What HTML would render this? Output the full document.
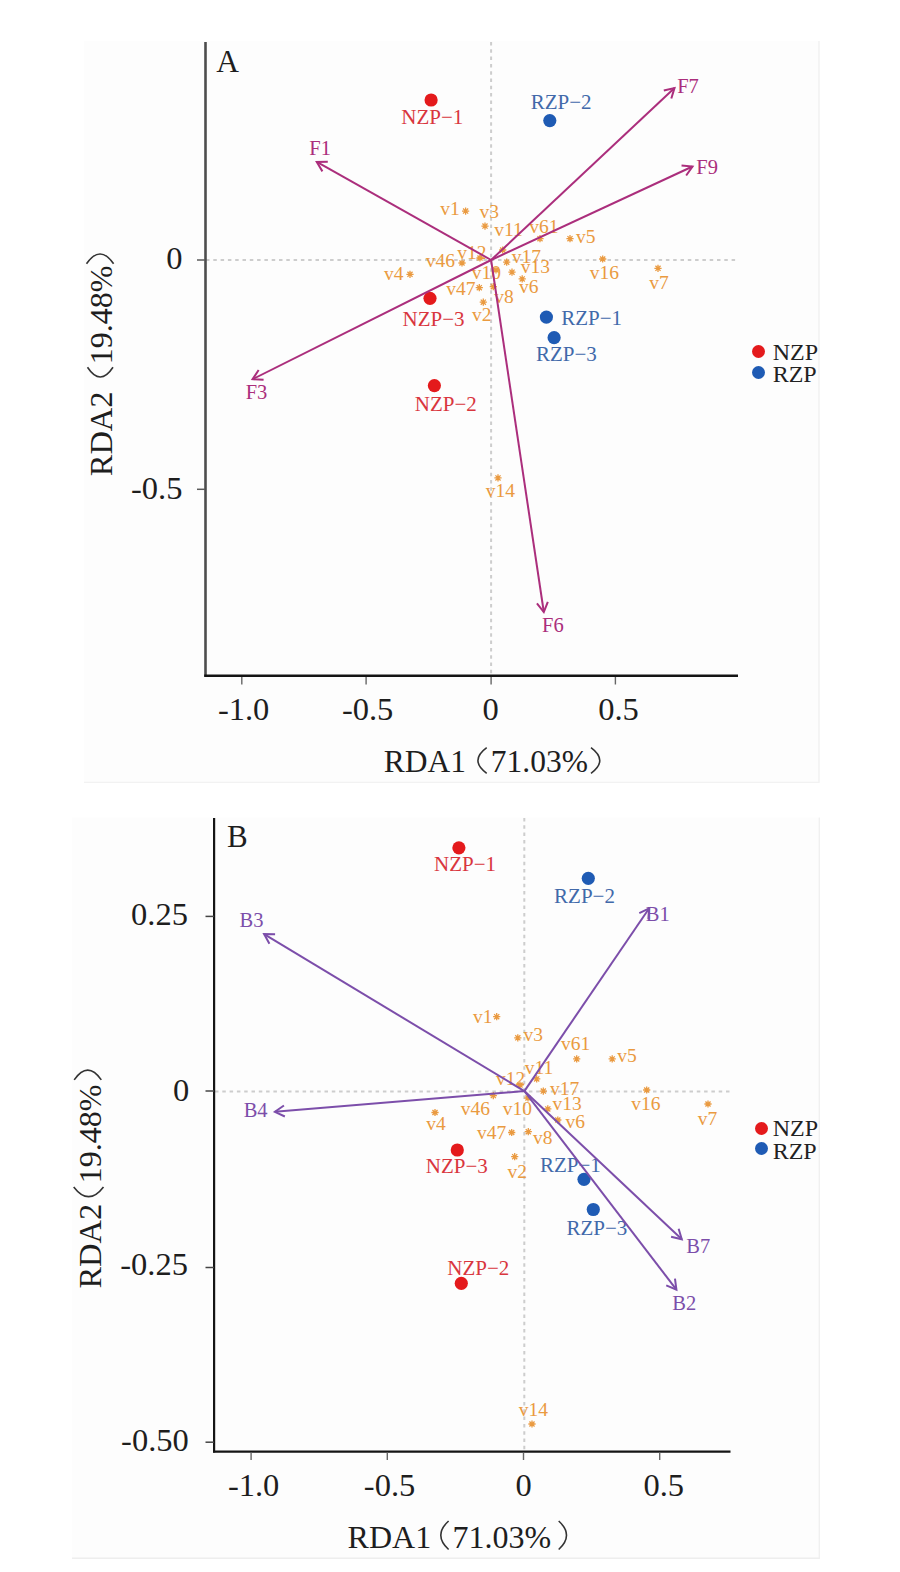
<!DOCTYPE html>
<html><head><meta charset="utf-8"><style>
html,body{margin:0;padding:0;background:#ffffff;}
svg{display:block;}
text{font-family:"Liberation Serif", serif;}
</style></head><body>
<svg width="900" height="1572" viewBox="0 0 900 1572">
<rect width="900" height="1572" fill="#ffffff"/>
<rect x="84" y="41" width="735" height="741" fill="#fdfdfd"/>
<rect x="72" y="817.5" width="747.5" height="741" fill="#fdfdfd"/>
<line x1="819" y1="41" x2="819" y2="782.5" stroke="#efefef" stroke-width="1.2"/>
<line x1="84" y1="782.3" x2="819.5" y2="782.3" stroke="#f2f2f2" stroke-width="1.2"/>
<line x1="819.3" y1="817.5" x2="819.3" y2="1558.7" stroke="#efefef" stroke-width="1.2"/>
<line x1="72" y1="1558.3" x2="819.8" y2="1558.3" stroke="#eeeeee" stroke-width="1.4"/>
<line x1="491.1" y1="42" x2="491.1" y2="675" stroke="#cdcdcd" stroke-width="2" stroke-dasharray="3.5,3.8"/>
<line x1="206" y1="260" x2="738" y2="260" stroke="#cdcdcd" stroke-width="2" stroke-dasharray="3.5,3.8"/>
<line x1="205.5" y1="42" x2="205.5" y2="676.5" stroke="#4d4d4d" stroke-width="2.6"/>
<line x1="204.2" y1="675.8" x2="738" y2="675.8" stroke="#141414" stroke-width="2.4"/>
<line x1="197" y1="260" x2="205" y2="260" stroke="#5a5a5a" stroke-width="1.5"/>
<line x1="197" y1="489.3" x2="205" y2="489.3" stroke="#5a5a5a" stroke-width="1.5"/>
<line x1="241.8" y1="677" x2="241.8" y2="684.5" stroke="#666" stroke-width="1.4"/>
<line x1="366.1" y1="677" x2="366.1" y2="684.5" stroke="#666" stroke-width="1.4"/>
<line x1="491.1" y1="677" x2="491.1" y2="684.5" stroke="#666" stroke-width="1.4"/>
<line x1="615.4" y1="677" x2="615.4" y2="684.5" stroke="#666" stroke-width="1.4"/>
<text x="166.22" y="269.44" font-size="32.5" fill="#1e1e1e">0</text>
<text x="131.02" y="499.36" font-size="32.5" fill="#1e1e1e">-0.5</text>
<text x="217.88" y="719.51" font-size="32.5" fill="#1e1e1e">-1.0</text>
<text x="341.93" y="719.51" font-size="32.5" fill="#1e1e1e">-0.5</text>
<text x="482.62" y="719.59" font-size="32.5" fill="#1e1e1e">0</text>
<text x="598.18" y="719.51" font-size="32.5" fill="#1e1e1e">0.5</text>
<text x="383.63" y="772.20" font-size="31.5" fill="#1e1e1e">RDA1</text>
<text x="490.85" y="772.20" font-size="31.5" fill="#1e1e1e">71.03%</text>
<path d="M486.70,747.60 Q469.15,760.45 486.70,773.30" fill="none" stroke="#333" stroke-width="1.6"/>
<path d="M591.00,747.60 Q608.55,760.45 591.00,773.30" fill="none" stroke="#333" stroke-width="1.6"/>
<text transform="translate(112.00,476.29) rotate(-90)" font-size="32.5" fill="#1e1e1e">RDA2</text>
<text transform="translate(112.00,364.20) rotate(-90)" font-size="32.0" fill="#1e1e1e">19.48%</text>
<path d="M87.50,367.30 Q100.25,386.80 113.00,367.30" fill="none" stroke="#333" stroke-width="1.6"/>
<path d="M86.50,263.80 Q100.05,244.30 113.60,263.80" fill="none" stroke="#333" stroke-width="1.6"/>
<text x="216.28" y="72.34" font-size="31.5" fill="#1e1e1e">A</text>
<text x="440.29" y="214.69" font-size="19.5" fill="#ea9a40">v1</text>
<text x="479.49" y="217.71" font-size="19.5" fill="#ea9a40">v3</text>
<text x="494.33" y="236.24" font-size="19.5" fill="#ea9a40">v11</text>
<text x="529.31" y="233.36" font-size="19.5" fill="#ea9a40">v61</text>
<text x="575.99" y="243.29" font-size="19.5" fill="#ea9a40">v5</text>
<text x="511.74" y="262.84" font-size="19.5" fill="#ea9a40">v17</text>
<text x="520.76" y="272.51" font-size="19.5" fill="#ea9a40">v13</text>
<text x="457.21" y="258.86" font-size="19.5" fill="#ea9a40">v12</text>
<text x="425.67" y="267.36" font-size="19.5" fill="#ea9a40">v46</text>
<text x="384.05" y="280.31" font-size="19.5" fill="#ea9a40">v4</text>
<text x="446.29" y="294.96" font-size="19.5" fill="#ea9a40">v47</text>
<text x="471.84" y="279.39" font-size="19.5" fill="#ea9a40">v10</text>
<text x="518.89" y="292.76" font-size="19.5" fill="#ea9a40">v6</text>
<text x="494.27" y="302.79" font-size="19.5" fill="#ea9a40">v8</text>
<text x="471.89" y="320.86" font-size="19.5" fill="#ea9a40">v2</text>
<text x="589.67" y="279.36" font-size="19.5" fill="#ea9a40">v16</text>
<text x="649.17" y="289.29" font-size="19.5" fill="#ea9a40">v7</text>
<text x="485.87" y="497.04" font-size="19.5" fill="#ea9a40">v14</text>
<path d="M462.00,211.10L469.20,211.10M463.05,208.55L468.15,213.65M465.60,207.50L465.60,214.70M468.15,208.55L463.05,213.65" stroke="#ea9a40" stroke-width="1.3"/>
<path d="M481.40,226.10L488.60,226.10M482.45,223.55L487.55,228.65M485.00,222.50L485.00,229.70M487.55,223.55L482.45,228.65" stroke="#ea9a40" stroke-width="1.3"/>
<path d="M536.40,238.70L543.60,238.70M537.45,236.15L542.55,241.25M540.00,235.10L540.00,242.30M542.55,236.15L537.45,241.25" stroke="#ea9a40" stroke-width="1.3"/>
<path d="M566.40,238.70L573.60,238.70M567.45,236.15L572.55,241.25M570.00,235.10L570.00,242.30M572.55,236.15L567.45,241.25" stroke="#ea9a40" stroke-width="1.3"/>
<path d="M499.10,250.00L506.30,250.00M500.15,247.45L505.25,252.55M502.70,246.40L502.70,253.60M505.25,247.45L500.15,252.55" stroke="#ea9a40" stroke-width="1.3"/>
<path d="M406.40,274.30L413.60,274.30M407.45,271.75L412.55,276.85M410.00,270.70L410.00,277.90M412.55,271.75L407.45,276.85" stroke="#ea9a40" stroke-width="1.3"/>
<path d="M458.40,263.00L465.60,263.00M459.45,260.45L464.55,265.55M462.00,259.40L462.00,266.60M464.55,260.45L459.45,265.55" stroke="#ea9a40" stroke-width="1.3"/>
<path d="M475.70,287.70L482.90,287.70M476.75,285.15L481.85,290.25M479.30,284.10L479.30,291.30M481.85,285.15L476.75,290.25" stroke="#ea9a40" stroke-width="1.3"/>
<path d="M518.60,278.90L525.80,278.90M519.65,276.35L524.75,281.45M522.20,275.30L522.20,282.50M524.75,276.35L519.65,281.45" stroke="#ea9a40" stroke-width="1.3"/>
<path d="M489.70,286.70L496.90,286.70M490.75,284.15L495.85,289.25M493.30,283.10L493.30,290.30M495.85,284.15L490.75,289.25" stroke="#ea9a40" stroke-width="1.3"/>
<path d="M479.70,302.20L486.90,302.20M480.75,299.65L485.85,304.75M483.30,298.60L483.30,305.80M485.85,299.65L480.75,304.75" stroke="#ea9a40" stroke-width="1.3"/>
<path d="M503.10,262.20L510.30,262.20M504.15,259.65L509.25,264.75M506.70,258.60L506.70,265.80M509.25,259.65L504.15,264.75" stroke="#ea9a40" stroke-width="1.3"/>
<path d="M508.40,272.20L515.60,272.20M509.45,269.65L514.55,274.75M512.00,268.60L512.00,275.80M514.55,269.65L509.45,274.75" stroke="#ea9a40" stroke-width="1.3"/>
<path d="M599.10,259.00L606.30,259.00M600.15,256.45L605.25,261.55M602.70,255.40L602.70,262.60M605.25,256.45L600.15,261.55" stroke="#ea9a40" stroke-width="1.3"/>
<path d="M654.40,268.30L661.60,268.30M655.45,265.75L660.55,270.85M658.00,264.70L658.00,271.90M660.55,265.75L655.45,270.85" stroke="#ea9a40" stroke-width="1.3"/>
<path d="M494.40,477.90L501.60,477.90M495.45,475.35L500.55,480.45M498.00,474.30L498.00,481.50M500.55,475.35L495.45,480.45" stroke="#ea9a40" stroke-width="1.3"/>
<path d="M476.40,258.00L483.60,258.00M477.45,255.45L482.55,260.55M480.00,254.40L480.00,261.60M482.55,255.45L477.45,260.55" stroke="#ea9a40" stroke-width="1.3"/>
<path d="M492.40,270.00L499.60,270.00M493.45,267.45L498.55,272.55M496.00,266.40L496.00,273.60M498.55,267.45L493.45,272.55" stroke="#ea9a40" stroke-width="1.3"/>
<circle cx="431.1" cy="100" r="6.6" fill="#e41a1c"/>
<circle cx="430" cy="298.3" r="6.6" fill="#e41a1c"/>
<circle cx="434.4" cy="385.6" r="6.6" fill="#e41a1c"/>
<circle cx="549.8" cy="120.6" r="6.6" fill="#1f5bb4"/>
<circle cx="546.4" cy="317.1" r="6.6" fill="#1f5bb4"/>
<circle cx="554.1" cy="337.7" r="6.6" fill="#1f5bb4"/>
<text x="401.24" y="123.93" font-size="21" fill="#d9363e">NZP−1</text>
<text x="402.48" y="325.75" font-size="21" fill="#d9363e">NZP−3</text>
<text x="414.84" y="411.16" font-size="21" fill="#d9363e">NZP−2</text>
<text x="530.77" y="109.31" font-size="21" fill="#4169aa">RZP−2</text>
<text x="561.27" y="325.28" font-size="21" fill="#4169aa">RZP−1</text>
<text x="535.96" y="360.90" font-size="21" fill="#4169aa">RZP−3</text>
<line x1="491.1" y1="260.0" x2="674.5" y2="88" stroke="#ab2e7c" stroke-width="2.0"/>
<polyline points="663.79,90.50 674.5,88 671.31,98.53" fill="none" stroke="#ab2e7c" stroke-width="2.0" stroke-linejoin="miter"/>
<line x1="491.1" y1="260.0" x2="692.5" y2="166.5" stroke="#ab2e7c" stroke-width="2.0"/>
<polyline points="681.54,165.52 692.5,166.5 686.18,175.50" fill="none" stroke="#ab2e7c" stroke-width="2.0" stroke-linejoin="miter"/>
<line x1="491.1" y1="260.0" x2="316.8" y2="161.9" stroke="#ab2e7c" stroke-width="2.0"/>
<polyline points="322.40,171.37 316.8,161.9 327.80,161.78" fill="none" stroke="#ab2e7c" stroke-width="2.0" stroke-linejoin="miter"/>
<line x1="491.1" y1="260.0" x2="252.6" y2="379.2" stroke="#ab2e7c" stroke-width="2.0"/>
<polyline points="263.58,379.86 252.6,379.2 258.66,370.02" fill="none" stroke="#ab2e7c" stroke-width="2.0" stroke-linejoin="miter"/>
<line x1="491.1" y1="260.0" x2="543.8" y2="612" stroke="#ab2e7c" stroke-width="2.0"/>
<polyline points="547.83,601.76 543.8,612 536.95,603.39" fill="none" stroke="#ab2e7c" stroke-width="2.0" stroke-linejoin="miter"/>
<text x="677.19" y="92.71" font-size="20.5" fill="#ab2e7c">F7</text>
<text x="696.31" y="173.94" font-size="20.5" fill="#ab2e7c">F9</text>
<text x="309.27" y="155.21" font-size="20.5" fill="#ab2e7c">F1</text>
<text x="245.71" y="398.89" font-size="20.5" fill="#ab2e7c">F3</text>
<text x="542.11" y="631.99" font-size="20.5" fill="#ab2e7c">F6</text>
<circle cx="758.5" cy="351.5" r="6.5" fill="#e41a1c"/>
<circle cx="758.5" cy="372.5" r="6.5" fill="#1f5bb4"/>
<text x="772.72" y="359.61" font-size="24" fill="#222">NZP</text>
<text x="772.63" y="381.61" font-size="24" fill="#222">RZP</text>
<line x1="524.3" y1="818" x2="524.3" y2="1451" stroke="#cdcdcd" stroke-width="2" stroke-dasharray="3.5,3.8"/>
<line x1="215" y1="1091.5" x2="731" y2="1091.5" stroke="#cdcdcd" stroke-width="2" stroke-dasharray="3.5,3.8"/>
<line x1="214.1" y1="818" x2="214.1" y2="1452.5" stroke="#151515" stroke-width="2.2"/>
<line x1="213" y1="1451.6" x2="730.5" y2="1451.6" stroke="#151515" stroke-width="2.2"/>
<line x1="205.5" y1="916.4" x2="214" y2="916.4" stroke="#444" stroke-width="1.5"/>
<line x1="205.5" y1="1091" x2="214" y2="1091" stroke="#444" stroke-width="1.5"/>
<line x1="205.5" y1="1267.5" x2="214" y2="1267.5" stroke="#444" stroke-width="1.5"/>
<line x1="205.5" y1="1442.2" x2="214" y2="1442.2" stroke="#444" stroke-width="1.5"/>
<line x1="251.1" y1="1452.5" x2="251.1" y2="1460" stroke="#666" stroke-width="1.4"/>
<line x1="387.3" y1="1452.5" x2="387.3" y2="1460" stroke="#666" stroke-width="1.4"/>
<line x1="523.5" y1="1452.5" x2="523.5" y2="1460" stroke="#666" stroke-width="1.4"/>
<line x1="659.7" y1="1452.5" x2="659.7" y2="1460" stroke="#666" stroke-width="1.4"/>
<text x="131.10" y="924.81" font-size="32.5" fill="#1e1e1e">0.25</text>
<text x="172.88" y="1100.64" font-size="32.5" fill="#1e1e1e">0</text>
<text x="120.20" y="1275.31" font-size="32.5" fill="#1e1e1e">-0.25</text>
<text x="121.11" y="1451.11" font-size="32.5" fill="#1e1e1e">-0.50</text>
<text x="227.93" y="1496.26" font-size="32.5" fill="#1e1e1e">-1.0</text>
<text x="363.82" y="1496.26" font-size="32.5" fill="#1e1e1e">-0.5</text>
<text x="515.58" y="1496.34" font-size="32.5" fill="#1e1e1e">0</text>
<text x="643.43" y="1496.26" font-size="32.5" fill="#1e1e1e">0.5</text>
<text x="347.62" y="1548.20" font-size="32" fill="#1e1e1e">RDA1</text>
<text x="452.52" y="1548.20" font-size="32" fill="#1e1e1e">71.03%</text>
<path d="M448.60,1521.00 Q433.00,1535.25 448.60,1549.50" fill="none" stroke="#333" stroke-width="1.6"/>
<path d="M558.70,1521.00 Q574.30,1535.25 558.70,1549.50" fill="none" stroke="#333" stroke-width="1.6"/>
<text transform="translate(100.60,1288.59) rotate(-90)" font-size="32.5" fill="#1e1e1e">RDA2</text>
<text transform="translate(100.60,1183.20) rotate(-90)" font-size="32" fill="#1e1e1e">19.48%</text>
<path d="M73.70,1186.90 Q88.60,1206.40 103.50,1186.90" fill="none" stroke="#333" stroke-width="1.6"/>
<path d="M74.20,1079.90 Q87.75,1060.40 101.30,1079.90" fill="none" stroke="#333" stroke-width="1.6"/>
<text x="226.95" y="846.81" font-size="31" fill="#1e1e1e">B</text>
<text x="473.04" y="1022.74" font-size="19.5" fill="#ea9a40">v1</text>
<text x="523.39" y="1041.36" font-size="19.5" fill="#ea9a40">v3</text>
<text x="560.96" y="1049.61" font-size="19.5" fill="#ea9a40">v61</text>
<text x="617.34" y="1062.39" font-size="19.5" fill="#ea9a40">v5</text>
<text x="524.63" y="1073.54" font-size="19.5" fill="#ea9a40">v11</text>
<text x="495.91" y="1085.36" font-size="19.5" fill="#ea9a40">v12</text>
<text x="550.09" y="1095.34" font-size="19.5" fill="#ea9a40">v17</text>
<text x="460.67" y="1114.71" font-size="19.5" fill="#ea9a40">v46</text>
<text x="502.84" y="1115.14" font-size="19.5" fill="#ea9a40">v10</text>
<text x="552.41" y="1110.26" font-size="19.5" fill="#ea9a40">v13</text>
<text x="565.54" y="1128.01" font-size="19.5" fill="#ea9a40">v6</text>
<text x="631.32" y="1110.11" font-size="19.5" fill="#ea9a40">v16</text>
<text x="476.89" y="1138.81" font-size="19.5" fill="#ea9a40">v47</text>
<text x="533.12" y="1143.89" font-size="19.5" fill="#ea9a40">v8</text>
<text x="426.25" y="1129.61" font-size="19.5" fill="#ea9a40">v4</text>
<text x="507.49" y="1178.36" font-size="19.5" fill="#ea9a40">v2</text>
<text x="697.87" y="1124.64" font-size="19.5" fill="#ea9a40">v7</text>
<text x="518.67" y="1415.99" font-size="19.5" fill="#ea9a40">v14</text>
<path d="M493.10,1016.70L500.30,1016.70M494.15,1014.15L499.25,1019.25M496.70,1013.10L496.70,1020.30M499.25,1014.15L494.15,1019.25" stroke="#ea9a40" stroke-width="1.3"/>
<path d="M514.20,1037.80L521.40,1037.80M515.25,1035.25L520.35,1040.35M517.80,1034.20L517.80,1041.40M520.35,1035.25L515.25,1040.35" stroke="#ea9a40" stroke-width="1.3"/>
<path d="M573.10,1058.90L580.30,1058.90M574.15,1056.35L579.25,1061.45M576.70,1055.30L576.70,1062.50M579.25,1056.35L574.15,1061.45" stroke="#ea9a40" stroke-width="1.3"/>
<path d="M608.60,1058.90L615.80,1058.90M609.65,1056.35L614.75,1061.45M612.20,1055.30L612.20,1062.50M614.75,1056.35L609.65,1061.45" stroke="#ea9a40" stroke-width="1.3"/>
<path d="M533.10,1078.90L540.30,1078.90M534.15,1076.35L539.25,1081.45M536.70,1075.30L536.70,1082.50M539.25,1076.35L534.15,1081.45" stroke="#ea9a40" stroke-width="1.3"/>
<path d="M539.70,1091.10L546.90,1091.10M540.75,1088.55L545.85,1093.65M543.30,1087.50L543.30,1094.70M545.85,1088.55L540.75,1093.65" stroke="#ea9a40" stroke-width="1.3"/>
<path d="M489.70,1095.60L496.90,1095.60M490.75,1093.05L495.85,1098.15M493.30,1092.00L493.30,1099.20M495.85,1093.05L490.75,1098.15" stroke="#ea9a40" stroke-width="1.3"/>
<path d="M544.20,1108.90L551.40,1108.90M545.25,1106.35L550.35,1111.45M547.80,1105.30L547.80,1112.50M550.35,1106.35L545.25,1111.45" stroke="#ea9a40" stroke-width="1.3"/>
<path d="M554.20,1120.00L561.40,1120.00M555.25,1117.45L560.35,1122.55M557.80,1116.40L557.80,1123.60M560.35,1117.45L555.25,1122.55" stroke="#ea9a40" stroke-width="1.3"/>
<path d="M643.10,1090.00L650.30,1090.00M644.15,1087.45L649.25,1092.55M646.70,1086.40L646.70,1093.60M649.25,1087.45L644.15,1092.55" stroke="#ea9a40" stroke-width="1.3"/>
<path d="M508.10,1132.50L515.30,1132.50M509.15,1129.95L514.25,1135.05M511.70,1128.90L511.70,1136.10M514.25,1129.95L509.15,1135.05" stroke="#ea9a40" stroke-width="1.3"/>
<path d="M524.70,1131.70L531.90,1131.70M525.75,1129.15L530.85,1134.25M528.30,1128.10L528.30,1135.30M530.85,1129.15L525.75,1134.25" stroke="#ea9a40" stroke-width="1.3"/>
<path d="M431.40,1112.50L438.60,1112.50M432.45,1109.95L437.55,1115.05M435.00,1108.90L435.00,1116.10M437.55,1109.95L432.45,1115.05" stroke="#ea9a40" stroke-width="1.3"/>
<path d="M511.10,1156.70L518.30,1156.70M512.15,1154.15L517.25,1159.25M514.70,1153.10L514.70,1160.30M517.25,1154.15L512.15,1159.25" stroke="#ea9a40" stroke-width="1.3"/>
<path d="M704.40,1104.00L711.60,1104.00M705.45,1101.45L710.55,1106.55M708.00,1100.40L708.00,1107.60M710.55,1101.45L705.45,1106.55" stroke="#ea9a40" stroke-width="1.3"/>
<path d="M528.40,1424.00L535.60,1424.00M529.45,1421.45L534.55,1426.55M532.00,1420.40L532.00,1427.60M534.55,1421.45L529.45,1426.55" stroke="#ea9a40" stroke-width="1.3"/>
<path d="M516.40,1085.00L523.60,1085.00M517.45,1082.45L522.55,1087.55M520.00,1081.40L520.00,1088.60M522.55,1082.45L517.45,1087.55" stroke="#ea9a40" stroke-width="1.3"/>
<path d="M524.40,1098.00L531.60,1098.00M525.45,1095.45L530.55,1100.55M528.00,1094.40L528.00,1101.60M530.55,1095.45L525.45,1100.55" stroke="#ea9a40" stroke-width="1.3"/>
<circle cx="458.9" cy="847.8" r="6.6" fill="#e41a1c"/>
<circle cx="457.3" cy="1150" r="6.6" fill="#e41a1c"/>
<circle cx="461.3" cy="1283.3" r="6.6" fill="#e41a1c"/>
<circle cx="588.3" cy="878.3" r="6.6" fill="#1f5bb4"/>
<circle cx="584" cy="1179.3" r="6.6" fill="#1f5bb4"/>
<circle cx="593.3" cy="1209.5" r="6.6" fill="#1f5bb4"/>
<text x="434.04" y="870.83" font-size="21" fill="#d9363e">NZP−1</text>
<text x="425.78" y="1172.85" font-size="21" fill="#d9363e">NZP−3</text>
<text x="447.29" y="1274.96" font-size="21" fill="#d9363e">NZP−2</text>
<text x="554.07" y="902.76" font-size="21" fill="#4169aa">RZP−2</text>
<text x="539.92" y="1172.28" font-size="21" fill="#4169aa">RZP−1</text>
<text x="566.41" y="1234.85" font-size="21" fill="#4169aa">RZP−3</text>
<line x1="524.4" y1="1091.1" x2="649.2" y2="908.3" stroke="#7c4eaa" stroke-width="2.0"/>
<polyline points="639.29,913.07 649.2,908.3 648.37,919.27" fill="none" stroke="#7c4eaa" stroke-width="2.0" stroke-linejoin="miter"/>
<line x1="524.4" y1="1091.1" x2="264.1" y2="934.1" stroke="#7c4eaa" stroke-width="2.0"/>
<polyline points="269.42,943.73 264.1,934.1 275.10,934.31" fill="none" stroke="#7c4eaa" stroke-width="2.0" stroke-linejoin="miter"/>
<line x1="524.4" y1="1091.1" x2="274.9" y2="1111.8" stroke="#7c4eaa" stroke-width="2.0"/>
<polyline points="284.85,1116.49 274.9,1111.8 283.94,1105.53" fill="none" stroke="#7c4eaa" stroke-width="2.0" stroke-linejoin="miter"/>
<line x1="524.4" y1="1091.1" x2="681.8" y2="1239.3" stroke="#7c4eaa" stroke-width="2.0"/>
<polyline points="678.63,1228.77 681.8,1239.3 671.09,1236.77" fill="none" stroke="#7c4eaa" stroke-width="2.0" stroke-linejoin="miter"/>
<line x1="524.4" y1="1091.1" x2="676.4" y2="1289.6" stroke="#7c4eaa" stroke-width="2.0"/>
<polyline points="674.98,1278.69 676.4,1289.6 666.24,1285.38" fill="none" stroke="#7c4eaa" stroke-width="2.0" stroke-linejoin="miter"/>
<text x="645.87" y="920.94" font-size="20.5" fill="#7c4eaa">B1</text>
<text x="239.61" y="926.99" font-size="20.5" fill="#7c4eaa">B3</text>
<text x="243.70" y="1116.96" font-size="20.5" fill="#7c4eaa">B4</text>
<text x="686.23" y="1252.89" font-size="20.5" fill="#7c4eaa">B7</text>
<text x="672.32" y="1310.32" font-size="20.5" fill="#7c4eaa">B2</text>
<circle cx="761.5" cy="1128.5" r="6.5" fill="#e41a1c"/>
<circle cx="761.5" cy="1148.5" r="6.5" fill="#1f5bb4"/>
<text x="772.72" y="1136.11" font-size="24" fill="#222">NZP</text>
<text x="772.63" y="1158.61" font-size="24" fill="#222">RZP</text>
</svg>
</body></html>
